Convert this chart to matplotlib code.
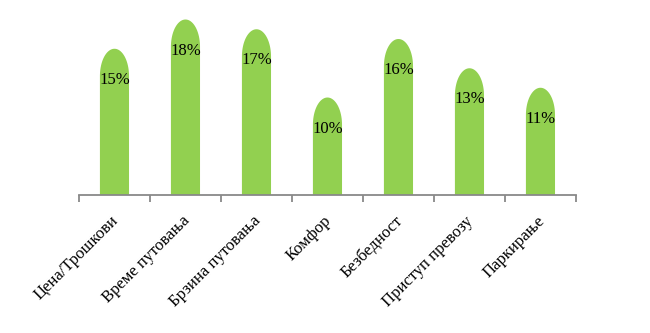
import numpy as np
import matplotlib.pyplot as plt
import matplotlib.transforms as mtransforms
from matplotlib.path import Path
from matplotlib.patches import PathPatch

categories = ["Цена/Трошкови", "Време путовања", "Брзина путовања", "Комфор",
              "Безбедност", "Приступ превозу", "Паркирање"]
values = [15, 18, 17, 10, 16, 13, 11]
labels = ["15%", "18%", "17%", "10%", "16%", "13%", "11%"]

plt.rcParams['font.family'] = ['Liberation Serif', 'DejaVu Serif']

fig = plt.figure(figsize=(6.5, 3.33), dpi=100)
ax = fig.add_axes([0.1215, 0.4144, 0.7646, 0.5856])

bar_w = 0.41
dome = 2.8
green = "#92D050"

t = np.linspace(np.pi, 0, 40)
for i, v in enumerate(values):
    left = i - bar_w / 2
    right = i + bar_w / 2
    arc_x = i + bar_w / 2 * np.cos(t)
    arc_y = (v - dome) + dome * np.sin(t)
    verts = [(left, 0), (left, v - dome)] + list(zip(arc_x, arc_y)) + [(right, 0), (left, 0)]
    codes = [Path.MOVETO] + [Path.LINETO] * (len(verts) - 2) + [Path.CLOSEPOLY]
    ax.add_patch(PathPatch(Path(verts, codes), facecolor=green, edgecolor="none"))
    ax.text(i, v - 3.2, labels[i], ha="center", va="center", fontsize=12, color="black")

ax.set_xlim(-0.5, len(values) - 0.5)
ax.set_ylim(0, 20)

for s in ["left", "right", "top"]:
    ax.spines[s].set_visible(False)
ax.spines["bottom"].set_color("#898989")
ax.spines["bottom"].set_linewidth(1.3)
ax.set_yticks([])

ax.set_xticks(range(len(categories)))
ax.set_xticklabels(categories, rotation=45, ha="right", rotation_mode="anchor", fontsize=12)
ax.tick_params(axis="x", which="major", length=0, pad=13)
ax.set_xticks(np.arange(-0.5, len(values), 1), minor=True)
ax.tick_params(axis="x", which="minor", length=5, width=1.3, color="#898989")

shift = mtransforms.ScaledTranslation(-4 / 100, 0, fig.dpi_scale_trans)
for lbl in ax.get_xticklabels():
    lbl.set_transform(lbl.get_transform() + shift)

fig.savefig("out.png", dpi=100)
